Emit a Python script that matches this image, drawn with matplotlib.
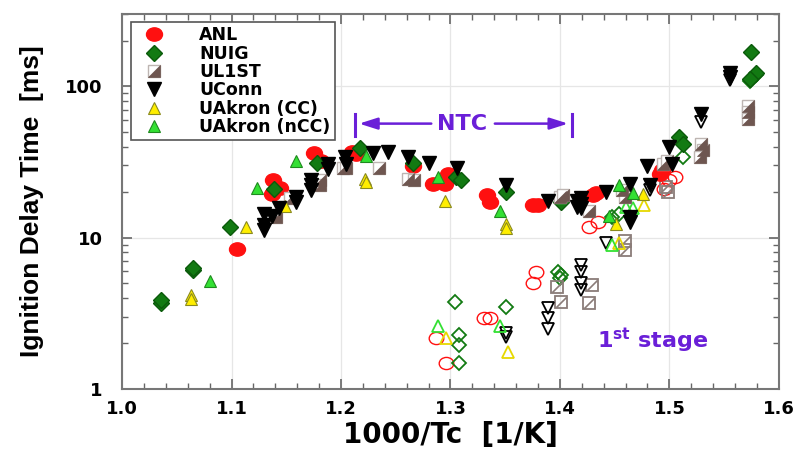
import numpy as np
import matplotlib
matplotlib.use("Agg")
import matplotlib.pyplot as plt
from matplotlib.path import Path
from matplotlib.lines import Line2D
from matplotlib.transforms import Affine2D
from matplotlib.ticker import MultipleLocator, LogLocator, NullFormatter, FixedLocator

plt.rcParams['font.family'] = ['DejaVu Sans']

# ---------------- data (1000/Tc [1/K], ignition delay [ms]) ----------------
anl_x = [1.105, 1.138, 1.144, 1.137, 1.175, 1.182, 1.210, 1.214, 1.266, 1.284, 1.295, 1.298,
         1.333, 1.336, 1.375, 1.380, 1.430, 1.433, 1.491, 1.493]
anl_y = [8.46, 23.9, 21.3, 19.3, 36.0, 32.3, 36.6, 35.5, 29.7, 22.7, 22.7, 26.4,
         19.1, 17.2, 16.4, 16.4, 19.1, 19.6, 26.4, 27.8]
anl1_x = [1.287, 1.296, 1.331, 1.336, 1.375, 1.378, 1.427, 1.435, 1.495, 1.500, 1.505]
anl1_y = [2.17, 1.49, 2.96, 2.96, 5.0, 5.94, 11.8, 12.7, 21.0, 23.9, 25.0]

nuig_x = [1.036, 1.036, 1.065, 1.065, 1.099, 1.139, 1.178, 1.217, 1.266, 1.305, 1.310, 1.351,
          1.401, 1.509, 1.512, 1.575, 1.579, 1.574]
nuig_y = [3.69, 3.85, 6.09, 6.35, 11.75, 21.0, 31.2, 38.9, 31.3, 25.0, 23.9, 20.1,
          17.2, 46.0, 41.7, 168.0, 123.0, 112.0]
nuig1_x = [1.304, 1.308, 1.308, 1.308, 1.351, 1.398, 1.401, 1.400, 1.448, 1.454, 1.512, 1.579, 1.574]
nuig1_y = [3.76, 2.28, 1.96, 1.49, 3.46, 5.94, 5.66, 5.39, 13.7, 14.4, 34.0, 118.0, 108.0]

ul_x = [1.141, 1.153, 1.181, 1.181, 1.202, 1.205, 1.235, 1.261, 1.267, 1.400, 1.403, 1.427,
        1.457, 1.459, 1.494, 1.498, 1.529, 1.531, 1.528, 1.572, 1.572, 1.572]
ul_y = [13.7, 18.2, 23.9, 22.2, 29.0, 29.0, 29.0, 24.5, 23.9, 18.6, 19.1, 15.1,
        20.5, 18.6, 30.8, 32.3, 41.7, 37.8, 34.0, 74.5, 67.4, 61.0]
ul1_x = [1.397, 1.401, 1.429, 1.427, 1.459, 1.459, 1.497, 1.499]
ul1_y = [4.75, 3.78, 4.87, 3.68, 9.5, 8.3, 21.5, 20.0]

uconn_x = [1.130, 1.130, 1.130, 1.137, 1.143, 1.159, 1.159, 1.173, 1.173, 1.173, 1.188, 1.188,
           1.204, 1.205, 1.229, 1.243, 1.261, 1.280, 1.306, 1.351, 1.389, 1.416, 1.416, 1.419,
           1.419, 1.419, 1.442, 1.464, 1.464, 1.464, 1.480, 1.482, 1.500, 1.502, 1.529, 1.555, 1.555]
uconn_y = [14.4, 12.1, 11.3, 14.0, 15.6, 18.5, 17.2, 23.9, 22.2, 20.8, 30.8, 28.6,
           34.0, 30.8, 36.0, 36.6, 34.0, 31.3, 29.0, 22.2, 17.6, 17.6, 16.0, 18.2,
           16.8, 15.6, 20.1, 22.7, 13.7, 12.7, 29.7, 22.2, 39.6, 30.8, 65.5, 123.0, 115.0]
uconn1_x = [1.351, 1.351, 1.389, 1.389, 1.389, 1.419, 1.419, 1.419, 1.419, 1.442, 1.482, 1.529, 1.555]
uconn1_y = [2.34, 2.22, 3.41, 2.94, 2.49, 6.6, 5.94, 5.0, 4.5, 9.2, 20.5, 58.0, 110.0]

cc_x = [1.063, 1.063, 1.113, 1.149, 1.222, 1.223, 1.295, 1.351, 1.351, 1.451, 1.476]
cc_y = [4.17, 3.92, 11.75, 16.1, 24.5, 23.4, 17.6, 12.4, 11.5, 12.4, 19.3]
cc1_x = [1.296, 1.353, 1.454, 1.477]
cc1_y = [2.17, 1.75, 9.2, 16.4]

ncc_x = [1.080, 1.123, 1.159, 1.223, 1.289, 1.345, 1.445, 1.454, 1.467]
ncc_y = [5.18, 21.3, 32.3, 34.9, 25.0, 15.1, 14.0, 22.2, 19.6]
ncc1_x = [1.289, 1.345, 1.448, 1.467, 1.460]
ncc1_y = [2.6, 2.6, 8.9, 15.6, 16.0]

x_ticks = [1.0, 1.1, 1.2, 1.3, 1.4, 1.5, 1.6]
x_tick_labels = ['1.0', '1.1', '1.2', '1.3', '1.4', '1.5', '1.6']
y_ticks = [1, 10, 100]
y_tick_labels = ['1', '10', '100']

# ---------------- styles ----------------
RED = '#ff1010'
GREEN = '#127a12'
BROWN = '#6e5650'
GRAYEDGE = '#8a7c78'
YEL = '#ffee00'
YELEDGE = '#8a8a20'
LGREEN = '#33e033'
LGEDGE = '#1f8a1f'
PURPLE = '#6a1fd8'

half_sq = Path([(-1, -1), (1, -1), (1, 1), (-1, -1)],
               [Path.MOVETO, Path.LINETO, Path.LINETO, Path.CLOSEPOLY])
diag = Path([(-1, -1), (1, 1)], [Path.MOVETO, Path.LINETO])
ellipse = Path.unit_circle().transformed(Affine2D().scale(1.2, 1.0))

fig = plt.figure(figsize=(7.98, 4.55), dpi=100)
ax = fig.add_axes([0.153, 0.145, 0.823, 0.824])

ms = 9
# first stage (open markers)
ax.plot(anl1_x, anl1_y, marker=ellipse, ls='none', ms=ms + 1.5, mfc='none', mec=RED, mew=1.0, zorder=3)
ax.plot(nuig1_x, nuig1_y, 'D', ms=ms - 1.5, mfc='none', mec=GREEN, mew=1.3, zorder=3)
ax.plot(ul1_x, ul1_y, 's', ms=ms, mfc='none', mec=GRAYEDGE, mew=1.3, zorder=3)
ax.plot(ul1_x, ul1_y, marker=diag, ls='none', ms=ms * 0.8, mec=GRAYEDGE, mew=1.2, zorder=3)
ax.plot(uconn1_x, uconn1_y, 'v', ms=ms, mfc='none', mec='black', mew=1.3, zorder=3)
ax.plot(cc1_x, cc1_y, '^', ms=ms, mfc='none', mec='#e6d800', mew=1.3, zorder=3)
ax.plot(ncc1_x, ncc1_y, '^', ms=ms, mfc='none', mec=LGREEN, mew=1.3, zorder=3)

# total ignition (filled markers)
ax.plot(anl_x, anl_y, marker=ellipse, ls='none', ms=ms + 2.5, mfc=RED, mec=RED, zorder=4, label='ANL')
ax.plot(nuig_x, nuig_y, 'D', ms=ms - 1, mfc=GREEN, mec='#0b5a0b', zorder=4, label='NUIG')
ax.plot(ul_x, ul_y, 's', ms=ms, mfc='white', mec='#bdb5b2', mew=1.0, zorder=4)
ax.plot(ul_x, ul_y, marker=half_sq, ls='none', ms=ms * 0.9, mfc=BROWN, mec=BROWN, mew=0.5, zorder=4)
ax.plot(uconn_x, uconn_y, 'v', ms=ms + 1, mfc='black', mec='black', zorder=5, label='UConn')
ax.plot(cc_x, cc_y, '^', ms=ms, mfc=YEL, mec=YELEDGE, mew=0.8, zorder=4, label='UAkron (CC)')
ax.plot(ncc_x, ncc_y, '^', ms=ms, mfc=LGREEN, mec=LGEDGE, mew=0.8, zorder=4, label='UAkron (nCC)')

# legend with custom UL1ST entry
ul_handle = (Line2D([], [], marker='s', ls='none', ms=ms, mfc='white', mec='#bdb5b2', mew=1.0),
             Line2D([], [], marker=half_sq, ls='none', ms=ms * 0.9, mfc=BROWN, mec=BROWN, mew=0.5))
h, l = ax.get_legend_handles_labels()
handles = [h[0], h[1], ul_handle, h[2], h[3], h[4]]
labels = ['ANL', 'NUIG', 'UL1ST', 'UConn', 'UAkron (CC)', 'UAkron (nCC)']
leg = ax.legend(handles, labels, loc='upper left', bbox_to_anchor=(0.008, 0.988),
                frameon=True, fancybox=False, edgecolor='#555555', framealpha=1,
                prop={'weight': 'bold', 'size': 12.5}, handletextpad=1.5,
                borderpad=0.25, labelspacing=0.02, handlelength=2.2, borderaxespad=0.2)
leg.get_frame().set_linewidth(1.2)

# axes scales
ax.set_yscale('log')
ax.set_xlim(1.0, 1.6)
ax.set_ylim(1, 300)
ax.xaxis.set_major_locator(FixedLocator(x_ticks))
ax.set_xticklabels(x_tick_labels)
ax.xaxis.set_minor_locator(MultipleLocator(0.02))
ax.yaxis.set_major_locator(FixedLocator(y_ticks))
ax.set_yticklabels(y_tick_labels)
ax.yaxis.set_minor_locator(LogLocator(base=10, subs=np.arange(2, 10)))
ax.yaxis.set_minor_formatter(NullFormatter())
ax.tick_params(which='both', direction='in', top=True, right=True, color='#666666')
ax.tick_params(which='major', length=7, width=1.2, labelsize=13)
ax.tick_params(axis='x', which='major', pad=8)
ax.tick_params(axis='y', which='major', pad=14)
ax.tick_params(which='minor', length=4, width=1.0)
for t in ax.get_xticklabels() + ax.get_yticklabels():
    t.set_fontweight('bold')
ax.grid(True, which='major', color='#e6e6e6', lw=0.9, zorder=0)
ax.set_axisbelow(True)
for s in ax.spines.values():
    s.set_color('#777777')
    s.set_linewidth(1.5)

ax.set_xlabel('1000/Tc  [1/K]', fontsize=20, fontweight='bold', labelpad=2)
ax.set_ylabel('Ignition Delay Time  [ms]', fontsize=19, fontweight='bold', labelpad=15,
              family='Liberation Sans')

# NTC annotation
ntc_left, ntc_right, ntc_y = 1.213, 1.411, 56.7
ax.plot([ntc_left, ntc_left], [47, 66], color=PURPLE, lw=2.2, zorder=6)
ax.plot([ntc_right, ntc_right], [47, 66], color=PURPLE, lw=2.2, zorder=6)
ax.text(1.311, ntc_y, 'NTC', color=PURPLE, fontsize=16, fontweight='bold',
        ha='center', va='center', zorder=6)
ax.annotate('', xy=(ntc_left + 0.001, ntc_y), xytext=(1.285, ntc_y),
            arrowprops=dict(arrowstyle='-|>,head_length=1.1,head_width=0.35', color=PURPLE, lw=1.8))
ax.annotate('', xy=(ntc_right - 0.001, ntc_y), xytext=(1.338, ntc_y),
            arrowprops=dict(arrowstyle='-|>,head_length=1.1,head_width=0.35', color=PURPLE, lw=1.8))

ax.text(1.434, 2.1, r'1$^{\mathbf{st}}$ stage', color=PURPLE, fontsize=16, fontweight='bold',
        ha='left', va='center', zorder=6)

fig.savefig('out.png', dpi=100)
